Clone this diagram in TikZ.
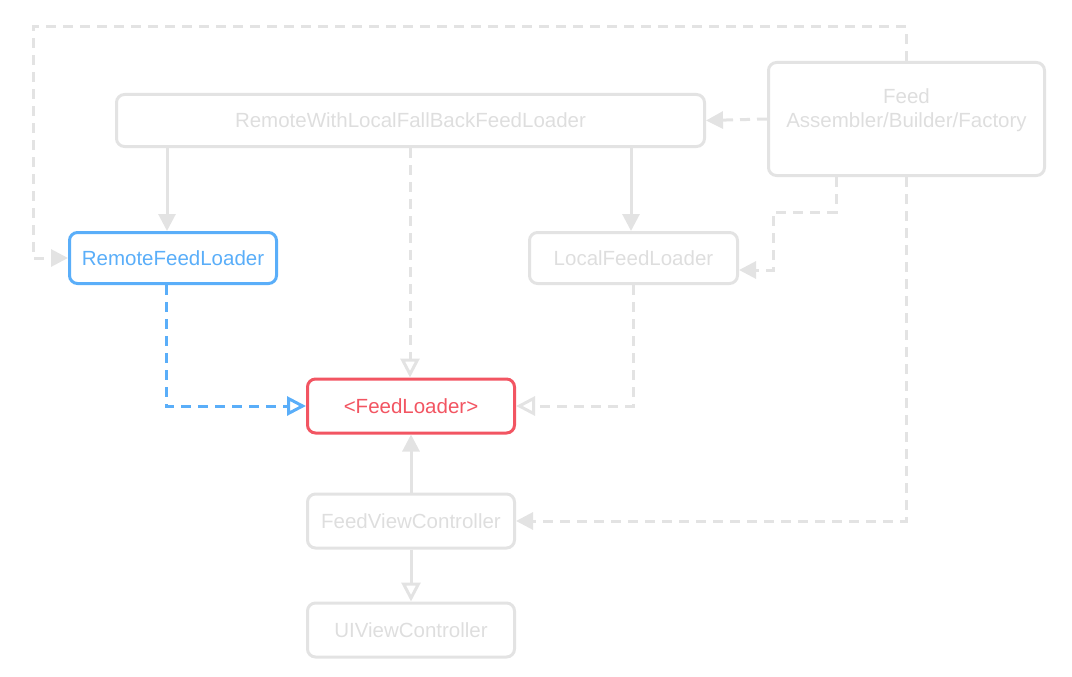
\documentclass[tikz,border=0pt]{standalone}
\usepackage{fontspec}
\setmainfont{Liberation Sans}
\usetikzlibrary{arrows.meta}
\definecolor{lg}{HTML}{E3E3E3}
\definecolor{lgt}{HTML}{DEDEDE}
\definecolor{bl}{HTML}{5AAEF9}
\definecolor{rd}{HTML}{F25562}
\begin{document}
\begin{tikzpicture}[x=1pt,y=-1pt,
  font=\fontsize{20.5}{24}\selectfont,
  box/.style={draw=lg, line width=3pt, rounded corners=8pt, text=lgt,
    inner sep=0pt, align=center},
  conn/.style={draw=lg, line width=3pt},
  dsh/.style={dash pattern=on 10pt off 7pt},
  fill tip/.style={-{Triangle[length=17pt,width=17pt]}},
  open tip/.style={-{Triangle[open,length=19pt,width=19pt]}},
]
\useasboundingbox (0,0) rectangle (1072,677);
% nodes
\node[box, minimum width=588pt, minimum height=52pt] (rwl) at (410.5,120.5) {RemoteWithLocalFallBackFeedLoader};
\node[box, minimum width=276pt, minimum height=113pt] (fab) at (906.5,119) {};
\node[text=lgt, align=center, inner sep=0pt] (fabtext) at (906.5,110) {Feed\\Assembler/Builder/Factory};
\node[box, draw=bl, text=bl, minimum width=207pt, minimum height=51pt] (rfl) at (173,258) {RemoteFeedLoader};
\node[box, minimum width=208pt, minimum height=51pt] (lfl) at (633.5,258) {LocalFeedLoader};
\node[box, draw=rd, text=rd, minimum width=207pt, minimum height=54pt] (fl) at (411,406) {<FeedLoader>};
\node[box, minimum width=207pt, minimum height=54pt] (fvc) at (411,521) {FeedViewController};
\node[box, minimum width=207pt, minimum height=54pt] (uivc) at (411,630) {UIViewController};
% helper coordinates
\coordinate (c1) at (167,0);
\coordinate (c2) at (631,0);
\coordinate (c3) at (410,0);
\coordinate (tl) at (33,27);
\coordinate (tr) at (906,27);
\coordinate (bl1) at (33,258);
\coordinate (b4) at (166,406);
\coordinate (b5) at (633,406);
\coordinate (k1) at (836,212);
\coordinate (k2) at (773,212);
\coordinate (k3) at (773,270);
\coordinate (k4) at (906,521);
% connectors
\draw[conn, fill tip] (rwl.south -| c1) -- (rfl.north -| c1);
\draw[conn, fill tip] (rwl.south -| c2) -- (lfl.north -| c2);
\draw[conn, dsh, open tip] (rwl.south -| c3) -- (fl.north -| c3);
\draw[conn, draw=bl, dsh, open tip] (rfl.south -| b4) -- (b4) -- (fl.west);
\draw[conn, dsh, open tip] (lfl.south -| b5) -- (b5) -- (fl.east);
\draw[conn, fill tip] (fvc.north) -- (fl.south);
\draw[conn, open tip] (fvc.south) -- (uivc.north);
\draw[conn, dsh, fill tip] (fab.west) -- (rwl.east);
\draw[conn, dsh, fill tip] (fab.north -| tr) -- (tr) -- (tl) -- (bl1) -- (rfl.west);
\draw[conn, dsh, fill tip] (fab.south -| k1) -- (k1) -- (k2) -- (k3) -- (k3 -| lfl.east);
\draw[conn, dsh, fill tip] (fab.south -| k4) -- (k4) -- (k4 -| fvc.east);
\end{tikzpicture}
\end{document}
